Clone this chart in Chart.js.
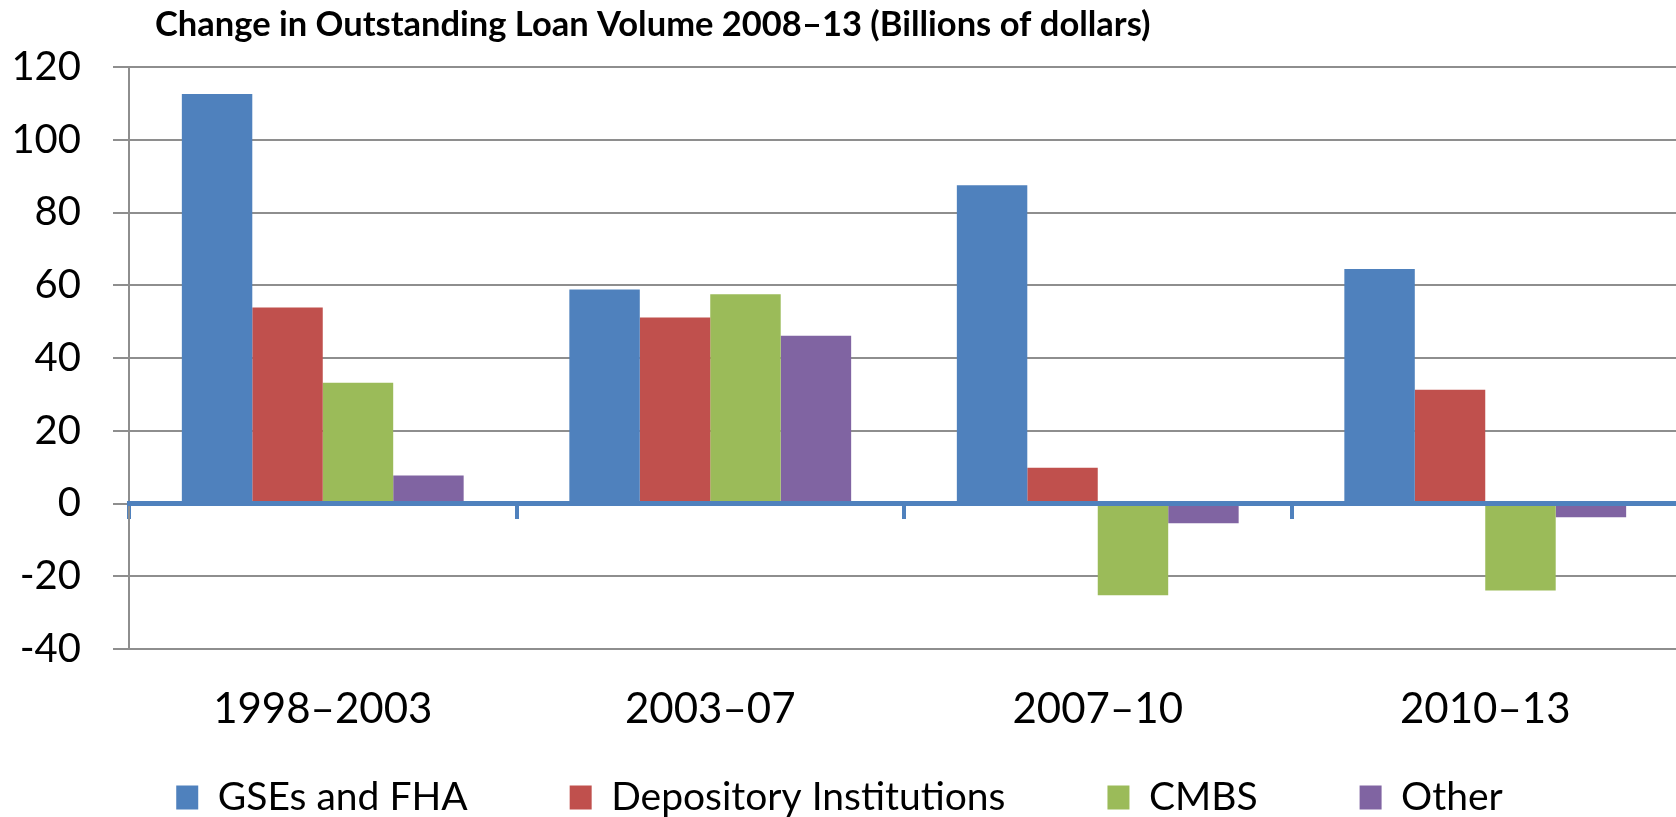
<!DOCTYPE html>
<html>
<head>
<meta charset="utf-8">
<script src="https://cdn.jsdelivr.net/npm/chart.js@4.4.1/dist/chart.umd.min.js"></script>
<style>
  html, body { margin: 0; padding: 0; overflow: hidden; background: #fff; }
  #wrap { position: relative; width: 1680px; height: 817px; }
</style>
</head>
<body>
<div id="wrap"><canvas id="loanChart"></canvas></div>
<script>
// change in outstanding loan volume by holder, billions of dollars
const periods = ['1998–2003', '2003–07', '2007–10', '2010–13'];
const seriesNames = ['GSEs and FHA', 'Depository Institutions', 'CMBS', 'Other'];
const gseFha = [112.6, 58.8, 87.5, 64.5];
const depository = [53.9, 51.1, 9.8, 31.3];
const cmbs = [33.2, 57.5, -25.2, -23.9];
const other = [7.7, 46.1, -5.4, -3.8];
const yMin = -40;
const yMax = 120;
const yStep = 20;

const titleText = 'Change in Outstanding Loan Volume 2008–13 (Billions of dollars)';

// office-style palette
const colors = ['#4F81BD', '#C0504D', '#9BBB59', '#8064A2'];
const fontFamily = 'Lato, "Open Sans", sans-serif';

// title sits a little in from the plot's left edge, so draw it by hand
const cornerTitle = {
    id: 'cornerTitle',
    afterDraw(chart) {
        const c = chart.ctx;
        c.save();
        c.font = 'bold 34.5px ' + fontFamily;
        c.fillStyle = '#000';
        c.textBaseline = 'alphabetic';
        c.fillText(titleText, chart.chartArea.left + 26, 36);
        c.restore();
    }
};

var ctx = document.getElementById('loanChart').getContext('2d');

new Chart(ctx, {
    type: 'bar',
    data: {
        labels: periods,
        datasets: [gseFha, depository, cmbs, other].map((values, i) => ({
            label: seriesNames[i],
            data: values,
            backgroundColor: colors[i],
            borderWidth: 0,
            // excel's 150% gap width
            categoryPercentage: 4 / 5.5,
            barPercentage: 1
        }))
    },
    options: {
        responsive: true,
        maintainAspectRatio: false,
        animation: false,
        layout: {
            padding: { top: 67, left: 0, right: 1, bottom: -10 }
        },
        plugins: {
            title: { display: false },
            tooltip: { enabled: false },
            legend: {
                position: 'bottom',
                labels: {
                    boxWidth: 22,
                    boxHeight: 24,
                    padding: 102,
                    color: '#000',
                    font: { family: fontFamily, size: 39 }
                }
            }
        },
        scales: {
            // blue zero line with the category separators hanging below it
            x: {
                position: { y: 0 },
                offset: true,
                grid: {
                    offset: true,
                    drawOnChartArea: false,
                    drawTicks: true,
                    tickLength: 13,
                    color: '#4F81BD',
                    lineWidth: 4
                },
                border: { display: true, color: '#4F81BD', width: 5, z: 1 },
                ticks: { display: false }
            },
            // period names along the bottom; mirror keeps them from being
            // clipped to this thin box (the legend sits right under it)
            x2: {
                type: 'category',
                position: 'bottom',
                offset: true,
                grid: { display: false, drawTicks: false },
                border: { display: false },
                ticks: {
                    color: '#000',
                    mirror: true,
                    padding: -86,
                    maxRotation: 0,
                    autoSkip: false,
                    font: { family: fontFamily, size: 42 }
                },
                afterFit: function(scale) { scale.height = 27; }
            },
            y: {
                min: yMin,
                max: yMax,
                ticks: {
                    stepSize: yStep,
                    color: '#000',
                    padding: 32,
                    font: { family: fontFamily, size: 40 }
                },
                grid: { color: '#8e8e8e', lineWidth: 2, tickLength: 16 },
                border: { color: '#8e8e8e', width: 2 },
                afterFit: function(scale) { scale.width = 129; }
            }
        }
    },
    plugins: [cornerTitle]
});
</script>
</body>
</html>
